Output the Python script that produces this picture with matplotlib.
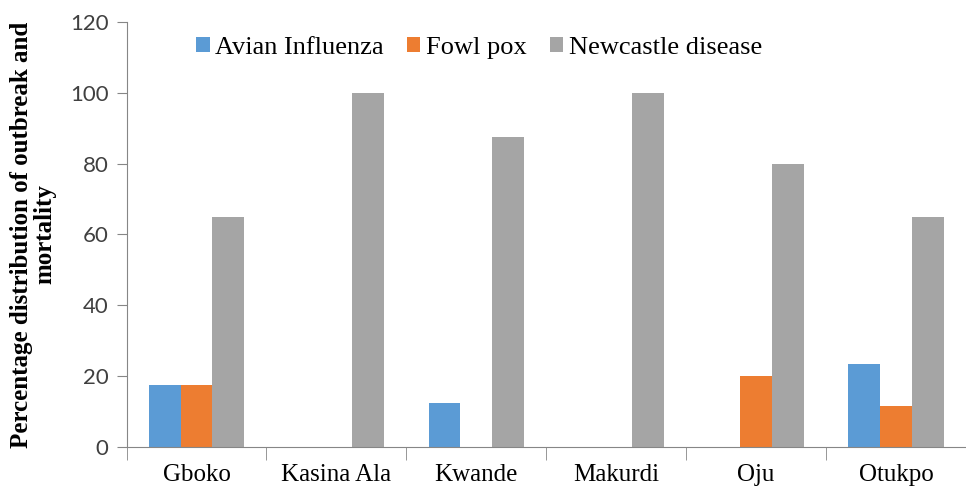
import matplotlib.pyplot as plt
import numpy as np

districts = ["Gboko", "Kasina Ala", "Kwande", "Makurdi", "Oju", "Otukpo"]
avian_influenza = [17.5, 0, 12.5, 0, 0, 23.3]
fowl_pox = [17.5, 0, 0, 0, 20, 11.7]
newcastle = [65, 100, 87.5, 100, 80, 65]

colors = ["#5b9bd5", "#ed7d31", "#a5a5a5"]
axis_gray = "#868686"

fig = plt.figure(figsize=(9.66, 4.88), dpi=100)
ax = fig.add_axes([0.131, 0.084, 0.869, 0.871])

x = np.arange(len(districts))
w = 0.227
ax.bar(x - w, avian_influenza, w, color=colors[0], label="Avian Influenza")
ax.bar(x, fowl_pox, w, color=colors[1], label="Fowl pox")
ax.bar(x + w, newcastle, w, color=colors[2], label="Newcastle disease")

ax.set_xlim(-0.5, len(districts) - 0.5)
ax.set_ylim(0, 120)
ax.set_yticks(range(0, 121, 20))
ax.set_yticklabels([str(v) for v in range(0, 121, 20)], fontsize=16, color="#404040",
                   family="Lato")

ax.set_xticks(x)
ax.set_xticklabels(districts, fontsize=18, family="Liberation Serif")
ax.set_xticks(np.arange(-0.5, len(districts), 1), minor=True)
ax.tick_params(axis="x", which="major", length=0, pad=12)
ax.tick_params(axis="x", which="minor", length=9, color=axis_gray)
ax.tick_params(axis="y", length=7, color=axis_gray, pad=6)

for side in ["top", "right"]:
    ax.spines[side].set_visible(False)
ax.spines["left"].set_color(axis_gray)
ax.spines["bottom"].set_color(axis_gray)

ax.set_ylabel("Percentage distribution of outbreak and\nmortality", fontsize=18,
              fontweight="bold", family="Liberation Serif", labelpad=10, linespacing=1.0)

leg = ax.legend(loc="upper center", bbox_to_anchor=(0.42, 1.02), ncol=3, frameon=False,
                prop={"family": "Liberation Serif", "size": 19}, handlelength=0.5,
                handleheight=0.5, handletextpad=0.2, columnspacing=0.9)

fig.savefig("out.png", dpi=100)
